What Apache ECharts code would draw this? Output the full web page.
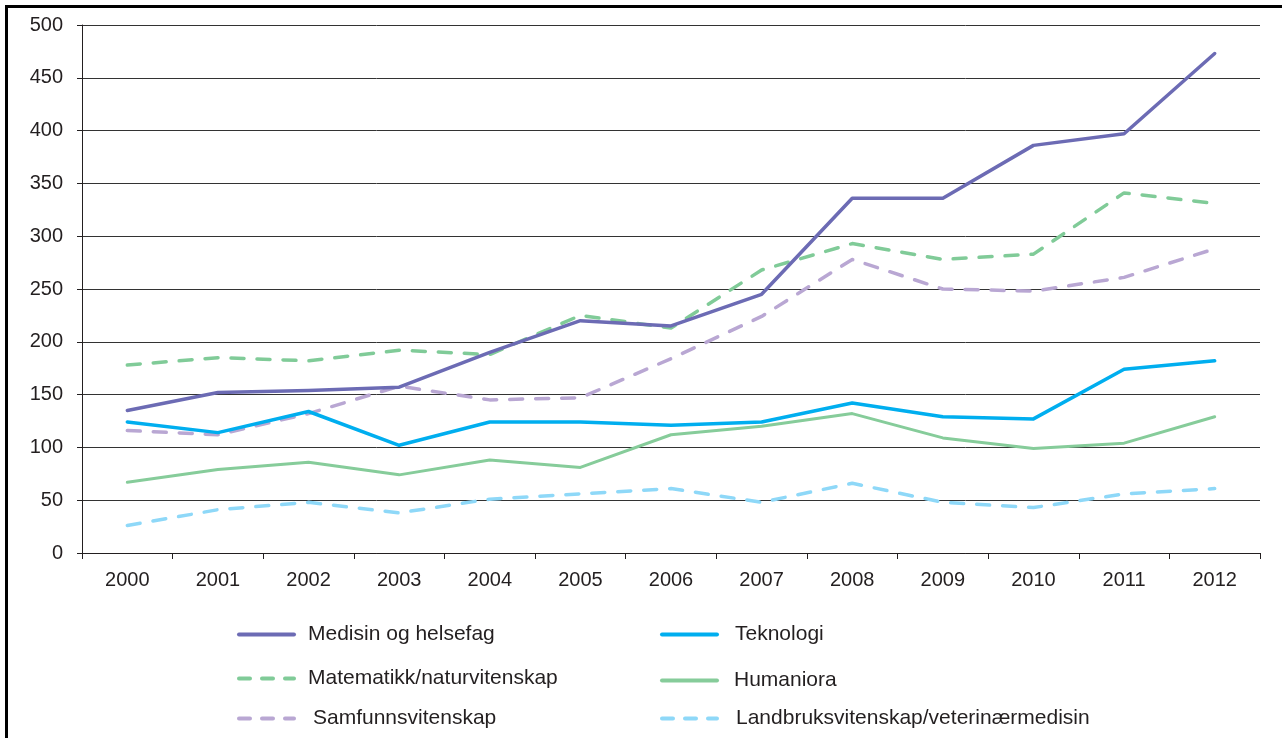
<!DOCTYPE html>
<html>
<head>
<meta charset="utf-8">
<style>
  html, body { margin: 0; padding: 0; background: #fff; }
  #chart { width: 1282px; height: 738px; }
  .frame {
    position: absolute; left: 5px; top: 5px; width: 1400px; height: 900px;
    border-left: 3px solid #000; border-top: 3px solid #000; pointer-events: none;
  }
</style>
<script src="https://cdn.jsdelivr.net/npm/echarts@6/dist/echarts.min.js"></script>
</head>
<body>
<div id="chart"></div>
<div class="frame"></div>
<script>
  var years = ['2000', '2001', '2002', '2003', '2004', '2005', '2006', '2007', '2008', '2009', '2010', '2011', '2012']
  var medisin = [135, 152, 154, 157, 190, 220, 215, 245, 336, 336, 386, 397, 473]
  var teknologi = [124, 114, 134, 102, 124, 124, 121, 124, 142, 129, 127, 174, 182]
  var matematikk = [178, 185, 182, 192, 188, 225, 213, 268, 293, 278, 283, 341, 331]
  var humaniora = [67, 79, 86, 74, 88, 81, 112, 120, 132, 109, 99, 104, 129]
  var samfunn = [116, 112, 132, 158, 145, 147, 184, 224, 278, 250, 248, 261, 288]
  var landbruk = [26, 41, 48, 38, 51, 56, 61, 48, 66, 48, 43, 56, 61]

  var textColor = '#231F20'
  var font = '"Liberation Sans", Arial, sans-serif'

  function line(name, data, color, dashed, width) {
    return {
      name: name,
      type: 'line',
      data: data,
      symbol: 'none',
      lineStyle: {
        color: color,
        width: width || 3.5,
        type: dashed ? [13, 13] : 'solid',
        cap: 'round',
        join: 'round'
      },
      itemStyle: { color: color }
    }
  }

  // one legend per entry, placed like the original two-column key
  function legend(name, left, top, dashed, pad) {
    return {
      data: [name],
      left: left,
      top: top,
      padding: 0,
      selectedMode: false,
      itemWidth: 55,
      itemHeight: 14,
      itemStyle: { opacity: 0 },
      lineStyle: { width: 4, type: dashed ? [11, 12] : 'solid', cap: 'round' },
      textStyle: { color: textColor, fontSize: 21, fontFamily: font, padding: [0, 0, 0, pad] }
    }
  }

  var chart = echarts.init(document.getElementById('chart'))
  chart.setOption({
    animation: false,
    backgroundColor: '#fff',
    grid: { left: 82, top: 25, right: 22, bottom: 185 },
    legend: [
      legend('Medisin og helsefag', 237, 624, false, 9),
      legend('Matematikk/naturvitenskap', 237, 668, true, 9),
      legend('Samfunnsvitenskap', 237, 708, true, 14),
      legend('Teknologi', 660, 624, false, 13),
      legend('Humaniora', 660, 670, false, 12),
      legend('Landbruksvitenskap/veterinærmedisin', 660, 708, true, 14)
    ],
    xAxis: {
      type: 'category',
      data: years,
      boundaryGap: true,
      axisLine: { lineStyle: { color: textColor, width: 1 } },
      axisTick: { show: true, length: 6, lineStyle: { color: textColor } },
      axisLabel: { color: textColor, fontSize: 20, fontFamily: font, margin: 17 }
    },
    yAxis: {
      type: 'value',
      min: 0,
      max: 500,
      interval: 50,
      axisLine: { show: true, lineStyle: { color: textColor, width: 1 } },
      axisTick: { show: true, length: 5, lineStyle: { color: textColor } },
      axisLabel: { color: textColor, fontSize: 20, fontFamily: font, margin: 19 },
      splitLine: { show: true, lineStyle: { color: '#333', width: 1 } }
    },
    series: [
      line('Landbruksvitenskap/veterinærmedisin', landbruk, '#8ED8F8', true),
      line('Humaniora', humaniora, '#86CC9A', false, 3),
      line('Samfunnsvitenskap', samfunn, '#B9A7D3', true),
      line('Matematikk/naturvitenskap', matematikk, '#80CB98', true),
      line('Teknologi', teknologi, '#00AEEF', false),
      line('Medisin og helsefag', medisin, '#6C6BB4', false)
    ]
  })
</script>
</body>
</html>
